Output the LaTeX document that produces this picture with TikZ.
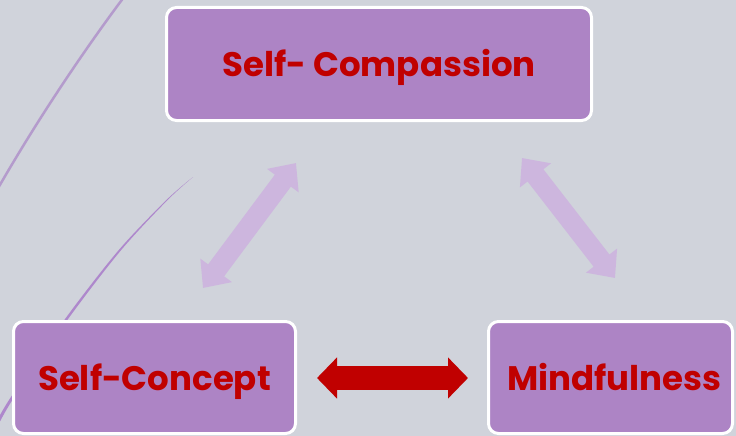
\documentclass[tikz,border=0pt]{standalone}
\usepackage{fontspec}
\newfontfamily\boxfont{Poppins}
\usetikzlibrary{arrows.meta}
\definecolor{bgcol}{HTML}{D0D3DB}
\definecolor{boxfill}{HTML}{AD84C5}
\definecolor{boxtext}{HTML}{C00000}
\definecolor{softarrow}{HTML}{CDB6DE}
\definecolor{swoosh}{HTML}{B49BCC}
\definecolor{swooshdark}{HTML}{AE88CC}
\tikzset{
  topic/.style={draw=white, line width=3pt, fill=boxfill, rounded corners=10pt,
    inner sep=0pt, text height=25pt, text depth=0pt, text=boxtext,
    font=\boxfont\bfseries\fontsize{34}{34}\selectfont},
  softlink/.style={softarrow, line width=20pt,
    {Triangle[width=38pt,length=22pt]}-{Triangle[width=38pt,length=22pt]}},
  strongline/.style={boxtext, line width=24pt,
    {Triangle[width=40pt,length=20pt]}-{Triangle[width=40pt,length=20pt]}}
}
\begin{document}
\begin{tikzpicture}[x=1pt,y=-1pt]
  \useasboundingbox (0,0) rectangle (736,436);
  \clip (0,0) rectangle (736,436);
  \fill[bgcol] (0,0) rectangle (736,436);

  % decorative swooshes on the left
  \draw[swoosh, line width=2.5pt] (124,-3) .. controls (88,45) and (40,115) .. (-3,190);
  \fill[swooshdark] plot[smooth] coordinates
    {(193,177) (167.6,200) (121.2,250) (69.5,317) (13.7,398) (-3.3,428)}
    -- plot[smooth] coordinates
    {(-6.7,428) (10.3,398) (66.5,317) (118.8,250) (166.4,200) (193,177)} -- cycle;

  % boxes
  \node[topic, minimum width=425pt, minimum height=113pt] (comp) at (379,64) {Self- Compassion};
  \node[topic, minimum width=282pt, minimum height=112pt] (concept) at (154.5,377.5) {Self-Concept};
  \node[topic, minimum width=244pt, minimum height=112pt] (mind) at (610.5,377.5) {\hspace*{8pt}Mindfulness};

  % arrow end points
  \coordinate (l1) at (296,163);
  \coordinate (l2) at (203,288);
  \coordinate (r1) at (522,158);
  \coordinate (r2) at (615,278);
  \coordinate (m1) at (317,378);
  \coordinate (m2) at (468,378);

  \draw[softlink] (l1) -- (l2);
  \draw[softlink] (r1) -- (r2);
  \draw[strongline] (m1) -- (m2);
\end{tikzpicture}
\end{document}
